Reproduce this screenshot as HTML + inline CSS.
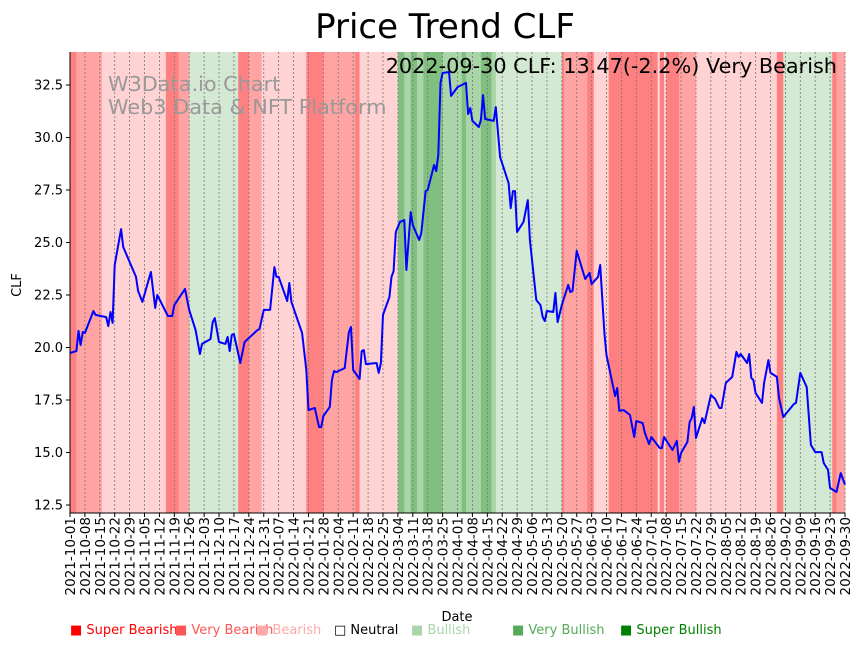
<!DOCTYPE html>
<html><head><meta charset="utf-8"><style>
body{margin:0;background:#fff;}
svg text{font-family:"DejaVu Sans","Liberation Sans",sans-serif;}
</style></head><body>
<svg id="chart" width="862" height="646" xmlns="http://www.w3.org/2000/svg">
<text x="445" y="38" font-size="34" text-anchor="middle">Price Trend CLF</text>
<g id="bands"></g><g id="grid"></g>
<text x="108" y="91" font-size="20.8" fill="#999">W3Data.io Chart</text>
<text x="108" y="114" font-size="20.8" fill="#999">Web3 Data &amp; NFT Platform</text>
<text x="837" y="73" font-size="20.8" text-anchor="end">2022-09-30 CLF: 13.47(-2.2%) Very Bearish</text>
<g id="line"></g><g id="axes"></g>
<text x="457" y="621" font-size="13" text-anchor="middle">Date</text>
<text transform="translate(21,285) rotate(-90)" font-size="13" text-anchor="middle">CLF</text>
<g id="legend" font-size="13"></g>
</svg>
<script>
const bandStarts=[0,3,15,45,51,56,79,84,90,111,119,134,136,154,157,160,163,166,175,184,186,193,198,200,231,232,243,246,253,276,277,279,280,286,294,332,335,358,360];
const bandLevels=[0,1,2,0,1,4,0,1,2,0,1,0,2,6,5,6,5,6,5,6,5,6,5,4,0,1,0,2,0,2,0,2,0,1,2,0,4,0,1];
const priceDays=[0,3,4,5,6,7,11,12,17,18,19,20,21,24,25,31,32,34,38,40,41,46,48,49,54,56,59,61,62,66,67,68,70,73,74,75,76,77,80,82,88,89,91,94,96,97,98,102,103,104,109,111,112,115,117,118,119,122,123,124,125,129,131,132,133,136,137,138,139,144,145,146,147,150,151,152,153,155,157,158,160,161,164,165,167,168,171,172,173,174,175,178,179,182,186,187,188,189,192,193,194,195,199,200,202,206,207,208,209,210,213,215,216,219,221,222,223,224,227,228,229,231,234,235,236,238,242,244,245,248,249,251,252,256,257,258,260,263,265,266,269,270,272,273,277,278,279,283,285,286,287,290,291,292,293,294,297,298,301,303,305,306,308,311,313,314,315,318,319,320,321,322,325,326,328,329,332,333,335,340,341,343,346,348,350,353,354,356,357,360,362,364];
const priceValues=[19.74,19.83,20.79,20.12,20.74,20.69,21.74,21.55,21.45,21.02,21.69,21.17,23.93,25.64,24.79,23.36,22.69,22.17,23.6,21.88,22.5,21.5,21.5,22.02,22.79,21.79,20.83,19.69,20.17,20.4,21.21,21.4,20.26,20.17,20.5,19.83,20.6,20.64,19.26,20.26,20.83,20.88,21.79,21.79,23.83,23.36,23.36,22.21,23.07,22.17,20.69,18.93,17.02,17.12,16.21,16.21,16.74,17.17,18.45,18.88,18.83,19.02,20.74,20.98,18.93,18.5,19.83,19.88,19.21,19.26,18.79,19.26,21.55,22.4,23.36,23.64,25.5,25.98,26.07,23.69,26.45,25.83,25.12,25.45,27.45,27.5,28.69,28.4,29.17,32.6,33.07,33.12,31.98,32.4,32.6,31.12,31.4,30.79,30.5,30.83,32.02,30.88,30.79,31.45,29.07,27.83,26.64,27.45,27.45,25.5,25.98,27.02,25.12,22.26,22.02,21.45,21.26,21.74,21.69,22.6,21.21,22.02,22.98,22.64,22.69,24.6,23.26,23.55,23.02,23.36,23.93,20.69,19.64,17.69,18.07,16.98,17.02,16.79,15.74,16.5,16.4,15.93,15.4,15.74,15.21,15.21,15.74,15.12,15.55,14.55,14.98,15.5,16.45,16.64,17.17,15.69,16.64,16.4,17.74,17.55,17.12,17.12,18.31,18.6,19.79,19.55,19.69,19.26,19.69,18.55,18.45,17.83,17.36,18.31,19.4,18.79,18.6,17.6,16.69,17.31,17.36,18.79,18.12,15.36,15.02,15.02,14.5,14.17,13.31,13.12,14.02,13.47];
const yTicks=[12.5,15.0,17.5,20.0,22.5,25.0,27.5,30.0,32.5];
const levelColors=["#ff8080","#ffa3a3","#ffd3d3","#ffffff","#d4e9d4","#a9d5a9","#80bf80"];
const legendNames=["Super Bearish","Very Bearish","Bearish","Neutral","Bullish","Very Bullish","Super Bullish"];
const legendColors=["#ff0000","#ff5555","#ffaaaa","#000000","#aad4aa","#55aa55","#008000"];
const legendX=[70,175,256,334,411,512,620];
const NS="http://www.w3.org/2000/svg";
const X0=70,X1=845,Y0=52,Y1=513,TOTAL=364;
const xs=d=>X0+d*(X1-X0)/TOTAL;
const ys=v=>505-(v-12.5)*21;
function mk(t,a,p){const e=document.createElementNS(NS,t);for(const k in a)e.setAttribute(k,a[k]);p.appendChild(e);return e;}
const gb=document.getElementById('bands');
bandStarts.forEach((s,i)=>{const e=i+1<bandStarts.length?bandStarts[i+1]:TOTAL;
 const r=mk('rect',{x:xs(s),y:Y0,width:xs(e)-xs(s)+0.3,height:Y1-Y0,fill:levelColors[bandLevels[i]]},gb);
 
 });
const gg=document.getElementById('grid'),ga=document.getElementById('axes');
const start=new Date(Date.UTC(2021,9,1));
for(let d=0;d<=TOTAL;d+=7){const x=xs(d);
 mk('line',{x1:x,x2:x,y1:Y0,y2:Y1,stroke:'#777','stroke-width':0.8,'stroke-dasharray':'2,2'},gg);
 mk('line',{x1:x,x2:x,y1:Y1,y2:Y1+4,stroke:'#000','stroke-width':1},ga);
 const dt=new Date(start.getTime()+d*864e5);const lab=dt.toISOString().slice(0,10);
 const t=mk('text',{transform:`translate(${x+5},517) rotate(-90)`,'font-size':13.5,'text-anchor':'end'},ga);t.textContent=lab;
 
 }
yTicks.forEach(v=>{const y=ys(v);mk('line',{x1:X0-4,x2:X0,y1:y,y2:y,stroke:'#000'},ga);
 const t=mk('text',{x:X0-7,y:y+4.5,'font-size':13,'text-anchor':'end'},ga);t.textContent=v.toFixed(1);
 
 });
mk('line',{x1:X0,x2:X0,y1:Y0,y2:Y1,stroke:'#000','stroke-width':1},ga);
mk('line',{x1:X0,x2:X1,y1:Y1,y2:Y1,stroke:'#000','stroke-width':1},ga);
const pts=priceDays.map((d,i)=>xs(d).toFixed(1)+','+ys(priceValues[i]).toFixed(1)).join(' ');
const pl=mk('polyline',{points:pts,fill:'none',stroke:'#0000ff','stroke-width':2,'stroke-linejoin':'round'},document.getElementById('line'));


const gl=document.getElementById('legend');
legendNames.forEach((n,i)=>{const t=mk('text',{x:legendX[i],y:634,fill:i==3?'#000':legendColors[i]},gl);
 t.textContent=(i==3?'\u25A1 ':'\u25A0 ')+n;
 
 });
</script>
</body></html>
